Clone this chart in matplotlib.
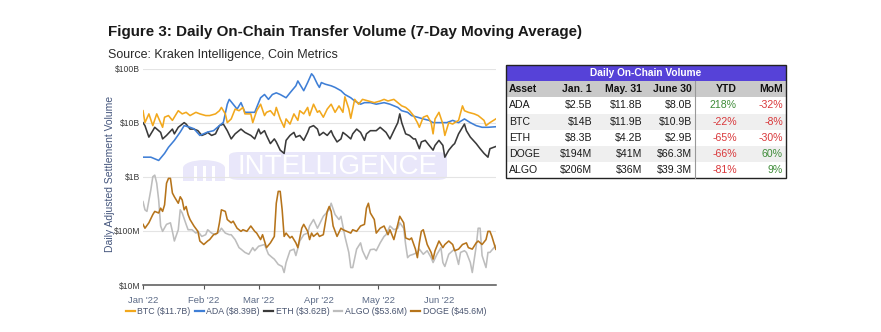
import numpy as np
import matplotlib.pyplot as plt
from matplotlib.patches import Rectangle, FancyBboxPatch, Wedge
from matplotlib.lines import Line2D

plt.rcParams['font.family'] = ['Liberation Sans', 'DejaVu Sans']

# day offsets from Jan 1 2022
btc_days = [0, 1, 3, 5, 7, 10, 11, 13, 15, 17, 18, 20, 22, 24, 27, 29, 32, 34, 37, 39,
            40, 42, 43, 45, 47, 49, 51, 52, 55, 56, 58, 60, 62, 63, 65, 67, 68, 70, 72, 73,
            75, 77, 79, 80, 82, 84, 85, 87, 89, 90, 92, 94, 96, 98, 100, 102, 103, 105, 106, 108,
            110, 112, 115, 118, 121, 123, 125, 128, 130, 132, 134, 136, 138, 140, 141, 143, 145, 147, 148, 149,
            151, 153, 154, 156, 158, 159, 161, 163, 164, 166, 169, 171, 174, 175, 177, 180]
btc_bn = [16.6, 10, 14.5, 8.8, 14.5, 8.2, 12.6, 13.5, 11, 14.5, 16.6, 14.5, 15.5, 13.5, 15.5, 14.5, 13.5, 13.5, 14.5, 16.6,
          19.1, 14.5, 10, 11.7, 17.8, 16.6, 19.1, 14.5, 14.5, 10, 16.6, 21.9, 13.5, 15.5, 16.6, 13.5, 19.1, 11.7, 8.2, 11.7,
          9.4, 14.5, 11, 16.6, 14.5, 19.1, 13.5, 21.9, 15.5, 16.6, 12.6, 17.8, 21.9, 15.5, 20.4, 15.5, 30, 18, 12, 26.9,
          21.9, 26.9, 25.1, 23.4, 25.1, 26.9, 25.1, 26.9, 23.4, 20.4, 19.1, 16.6, 13.5, 10, 8.2, 12.6, 13.5, 10, 6.2, 11.7,
          15.5, 9.4, 5.8, 10, 9.4, 10, 11, 20.4, 16.6, 15.5, 14.5, 13.5, 11, 8.8, 10, 11.7]

ada_days = [0, 4, 8, 11, 13, 16, 19, 21, 24, 26, 29, 33, 36, 39, 41, 43, 44, 46, 48, 50,
            52, 55, 57, 60, 62, 64, 66, 68, 70, 73, 75, 78, 79, 81, 82, 84, 86, 87, 89, 90,
            91, 93, 96, 98, 101, 103, 106, 108, 111, 113, 116, 119, 123, 126, 130, 132, 135, 137, 140, 143,
            146, 148, 152, 155, 158, 161, 164, 167, 170, 173, 176, 180]
ada_bn = [2.3, 2.3, 2.0, 2.7, 3.5, 4.7, 6.7, 8.8, 8.2, 7.7, 5.8, 6.7, 7.1, 8.8, 10.1, 21.9, 26.9, 21.9, 17.8, 23.4,
          15.5, 15.5, 15.5, 28.8, 33.1, 26.9, 33.1, 35.5, 33.1, 28.8, 35.5, 47.9, 58.9, 44.7, 38.9, 55, 80, 72.4, 51.3, 44.7,
          55, 51.3, 47.9, 44.7, 38.9, 33.1, 28.8, 25.1, 21.9, 23.4, 23.4, 21.9, 23.4, 21.9, 19.1, 16.6, 15.5, 13.5, 12.6, 11.7,
          11, 10, 10, 10, 11, 10, 11.7, 10, 8.8, 8.2, 8.2, 8.39]

eth_days = [0, 1, 3, 5, 6, 9, 10, 12, 15, 16, 18, 21, 22, 24, 26, 28, 30, 32, 33, 35,
            37, 39, 41, 43, 45, 47, 50, 52, 55, 57, 59, 60, 62, 63, 65, 67, 68, 70, 72, 73,
            75, 77, 78, 80, 82, 84, 85, 87, 89, 90, 92, 94, 96, 97, 99, 101, 102, 104, 106, 107,
            109, 111, 113, 114, 116, 119, 121, 124, 126, 128, 130, 131, 132, 134, 136, 138, 139, 141, 142, 144,
            146, 148, 149, 151, 153, 154, 156, 158, 159, 161, 163, 164, 165, 167, 170, 172, 174, 176, 177, 180]
eth_bn = [10, 8.8, 5.4, 7.1, 8.2, 6.6, 5.0, 5.8, 7.6, 6.2, 8.2, 10, 9.4, 7.6, 7.6, 7.1, 5.8, 6.2, 6.6, 5.8,
          6.2, 8.8, 9.4, 7.1, 5.0, 6.2, 7.6, 6.6, 5.8, 5.0, 7.6, 6.2, 7.1, 5.8, 4.1, 5.0, 4.4, 3.1, 2.7, 4.7,
          5.8, 6.6, 5.4, 5.8, 4.7, 6.6, 8.2, 8.8, 7.6, 5.8, 6.6, 5.8, 7.1, 5.8, 4.4, 5.0, 6.6, 5.8, 5.0, 6.2,
          7.6, 6.6, 4.7, 6.2, 7.1, 7.1, 8.2, 6.6, 5.0, 7.1, 10, 14.5, 10, 6.2, 5.8, 5.0, 5.0, 3.3, 4.4, 4.7,
          3.8, 3.1, 3.8, 4.7, 3.8, 2.3, 3.1, 3.8, 4.1, 6.2, 8.2, 9.4, 7.1, 5.4, 4.1, 3.3, 2.7, 2.3, 3.3, 3.62]

algo_days = [0, 1, 2, 4, 5, 6, 7, 8, 9, 10, 12, 14, 15, 16, 18, 19, 20, 22, 23, 25,
             27, 28, 30, 32, 33, 35, 37, 39, 40, 42, 44, 45, 47, 49, 50, 52, 54, 56, 57, 59,
             62, 64, 66, 67, 69, 71, 72, 73, 75, 77, 78, 80, 82, 84, 85, 87, 89, 90, 92, 95,
             96, 98, 100, 101, 103, 105, 106, 107, 109, 111, 112, 114, 116, 118, 119, 121, 123, 124, 126, 128,
             130, 131, 133, 134, 135, 136, 138, 140, 141, 143, 145, 147, 148, 150, 152, 153, 154, 156, 158, 159,
             161, 162, 164, 165, 167, 168, 170, 171, 172, 173, 175, 176, 177, 180]
algo_mn = [347, 245, 229, 575, 1000, 1072, 759, 372, 123, 98, 132, 141, 98, 65, 105, 245, 214, 132, 105, 105,
           91, 98, 79, 85, 105, 91, 85, 98, 112, 91, 85, 85, 69, 49, 46, 40, 37, 49, 43, 52,
           56, 37, 32, 30, 24, 22, 17, 26, 43, 46, 35, 65, 85, 91, 123, 162, 112, 132, 186, 245,
           324, 200, 162, 186, 79, 40, 21, 21, 46, 60, 43, 30, 45, 46, 43, 60, 79, 85, 123, 105,
           112, 141, 112, 56, 32, 35, 37, 40, 46, 37, 43, 32, 26, 37, 49, 26, 22, 37, 43, 46,
           24, 40, 43, 40, 26, 17, 52, 112, 112, 35, 21, 40, 40, 53.6]

doge_days = [0, 1, 3, 5, 6, 8, 9, 10, 11, 12, 13, 14, 15, 16, 18, 19, 20, 21, 22, 23,
             24, 26, 28, 29, 31, 33, 34, 36, 38, 39, 40, 42, 43, 45, 46, 48, 50, 51, 53, 55,
             57, 58, 60, 61, 63, 65, 67, 68, 69, 70, 71, 72, 73, 75, 76, 78, 79, 81, 82, 84,
             85, 86, 87, 89, 90, 92, 94, 95, 96, 97, 99, 101, 102, 104, 106, 107, 109, 111, 113, 114,
             115, 116, 118, 119, 121, 123, 125, 126, 128, 130, 131, 133, 134, 136, 137, 139, 140, 141, 142, 143,
             145, 147, 148, 149, 151, 153, 154, 156, 158, 159, 161, 163, 165, 166, 168, 170, 171, 173, 175, 176,
             177, 178, 180]
doge_mn = [132, 112, 141, 200, 229, 214, 263, 229, 302, 759, 933, 933, 501, 427, 324, 427, 372, 245, 282, 200,
           162, 123, 98, 65, 56, 65, 69, 85, 91, 141, 245, 229, 162, 141, 151, 112, 98, 105, 98, 123,
           98, 91, 69, 85, 49, 60, 79, 324, 537, 537, 245, 79, 91, 74, 79, 60, 49, 112, 132, 98,
           69, 91, 79, 91, 79, 85, 229, 282, 229, 123, 79, 112, 105, 98, 91, 105, 98, 123, 132, 263,
           324, 214, 162, 91, 112, 123, 85, 105, 69, 132, 186, 141, 74, 69, 74, 46, 32, 60, 98, 105,
           56, 40, 30, 43, 65, 49, 56, 65, 56, 43, 46, 56, 60, 49, 46, 60, 65, 56, 69, 98,
           98, 79, 45.6]

month_labels = ["Jan '22", "Feb '22", "Mar '22", "Apr '22", "May '22", "Jun '22"]
month_starts = ['2022-01-01', '2022-02-01', '2022-03-01', '2022-04-01', '2022-05-01', '2022-06-01']
y_ticks = [1e7, 1e8, 1e9, 1e10, 1e11]
y_tick_labels = ['$10M', '$100M', '$1B', '$10B', '$100B']

legend_labels = ['BTC ($11.7B)', 'ADA ($8.39B)', 'ETH ($3.62B)', 'ALGO ($53.6M)', 'DOGE ($45.6M)']

table_cols = ['Asset', 'Jan. 1', 'May. 31', 'June 30', 'YTD', 'MoM']
table_rows = [
    ['ADA', '$2.5B', '$11.8B', '$8.0B', '218%', '-32%'],
    ['BTC', '$14B', '$11.9B', '$10.9B', '-22%', '-8%'],
    ['ETH', '$8.3B', '$4.2B', '$2.9B', '-65%', '-30%'],
    ['DOGE', '$194M', '$41M', '$66.3M', '-66%', '60%'],
    ['ALGO', '$206M', '$36M', '$39.3M', '-81%', '9%'],
]

colors = {'BTC': '#f2a81d', 'ADA': '#3f7fd6', 'ETH': '#3a3a3a', 'ALGO': '#bdbdbd', 'DOGE': '#b6741b'}

W, H = 881, 332


def fx(x):
    return x / W


def fy(y):
    return 1 - y / H


fig = plt.figure(figsize=(W / 100, H / 100), dpi=100)

# titles
fig.text(fx(108), fy(32), 'Figure 3: Daily On-Chain Transfer Volume (7-Day Moving Average)',
         fontsize=10.9, fontweight='bold', color='#1a1a1a', va='center', ha='left')
fig.text(fx(108), fy(55), 'Source: Kraken Intelligence, Coin Metrics',
         fontsize=9, color='#2a2a2a', va='center', ha='left')

# watermark (behind the chart)
wm = '#e9e7fa'
fig.add_artist(FancyBboxPatch((fx(229), fy(180)), fx(447) - fx(229), fy(152) - fy(180),
                              boxstyle='round,pad=0,rounding_size=0.012', transform=fig.transFigure,
                              facecolor=wm, edgecolor='none', zorder=-2))
fig.add_artist(Wedge((fx(204), fy(168)), fx(21), 0, 180, transform=fig.transFigure,
                     facecolor=wm, edgecolor='none', zorder=-2))
fig.add_artist(Rectangle((fx(183), fy(181)), fx(42), fy(168) - fy(181), transform=fig.transFigure,
                         facecolor=wm, edgecolor='none', zorder=-2))
for lx in [195, 204, 213]:
    fig.add_artist(Rectangle((fx(lx - 1.5), fy(182)), fx(3), fy(166) - fy(182), transform=fig.transFigure,
                             facecolor='white', edgecolor='none', zorder=-2))
fig.text(fx(338), fy(166.5), 'INTELLIGENCE', fontsize=20, color='white', ha='center', va='center',
         zorder=-1)

ax = fig.add_axes([fx(143), fy(285), fx(495.8) - fx(143), fy(68.5) - fy(285)])
ax.patch.set_alpha(0)

start = np.datetime64('2022-01-01')
series = [
    ('ALGO', algo_days, np.array(algo_mn) * 1e6),
    ('DOGE', doge_days, np.array(doge_mn) * 1e6),
    ('ETH', eth_days, np.array(eth_bn) * 1e9),
    ('ADA', ada_days, np.array(ada_bn) * 1e9),
    ('BTC', btc_days, np.array(btc_bn) * 1e9),
]
for name, days, vals in series:
    ax.plot(start + np.array(days), vals, color=colors[name], lw=1.15, solid_joinstyle='round')

ax.set_yscale('log')
ax.set_ylim(1e7, 1e11)
ax.set_xlim(start, start + 180)
ax.set_yticks(y_ticks)
ax.set_yticklabels(y_tick_labels)
ax.minorticks_off()
ax.set_xticks([np.datetime64(m) for m in month_starts])
ax.set_xticklabels(month_labels)
ax.grid(axis='y', color='#e4e4e4', lw=0.8)
ax.set_axisbelow(True)
for s in ['top', 'right', 'left']:
    ax.spines[s].set_visible(False)
ax.spines['bottom'].set_color('#555555')
ax.spines['bottom'].set_linewidth(1.1)
ax.tick_params(axis='y', length=0, pad=2, labelsize=6.2, labelcolor='#3a3a3a')
ax.tick_params(axis='x', length=3, width=0.8, color='#555555', pad=5, labelsize=6.8, labelcolor='#5b6a86')

fig.text(fx(110), fy(174), 'Daily Adjusted Settlement Volume', rotation=90, fontsize=7.5,
         color='#45567d', ha='center', va='center')

# legend
order = ['BTC', 'ADA', 'ETH', 'ALGO', 'DOGE']
handles = [Line2D([], [], color=colors[n], lw=1.6) for n in order]
leg = fig.legend(handles, legend_labels, loc='center', bbox_to_anchor=(fx(306), fy(312)), ncol=5,
                 frameon=False, fontsize=6.3, handlelength=1.0, handletextpad=0.3, columnspacing=0.5)
for t in leg.get_texts():
    t.set_color('#4a5570')

# table
tx0, tx1 = 506, 786
ty_top, ty_head, ty_cols = 65, 81, 97.3
row_h = 16.2
fig.add_artist(Rectangle((fx(tx0), fy(ty_head)), fx(tx1 - tx0), fy(ty_top) - fy(ty_head),
                         transform=fig.transFigure, facecolor='#5642d8', edgecolor='none'))
fig.add_artist(Rectangle((fx(tx0), fy(ty_cols)), fx(tx1 - tx0), fy(ty_head) - fy(ty_cols),
                         transform=fig.transFigure, facecolor='#c9c9c9', edgecolor='none'))
for i in range(len(table_rows)):
    top = ty_cols + i * row_h
    fc = '#efefef' if i % 2 == 1 else 'white'
    fig.add_artist(Rectangle((fx(tx0), fy(top + row_h)), fx(tx1 - tx0), fy(top) - fy(top + row_h),
                             transform=fig.transFigure, facecolor=fc, edgecolor='none'))
ty_bot = ty_cols + len(table_rows) * row_h
fig.add_artist(Rectangle((fx(tx0), fy(ty_bot)), fx(tx1 - tx0), fy(ty_top) - fy(ty_bot),
                         transform=fig.transFigure, facecolor='none', edgecolor='#222222', lw=1.0))
fig.add_artist(Line2D([fx(695), fx(695)], [fy(ty_head), fy(ty_bot)], transform=fig.transFigure,
                      color='#999999', lw=0.8))

fig.text(fx((tx0 + tx1) / 2), fy((ty_top + ty_head) / 2), 'Daily On-Chain Volume', color='white',
         fontsize=7.3, fontweight='bold', ha='center', va='center')

col_x = [509, 592, 642, 692, 737, 783]
col_ha = ['left', 'right', 'right', 'right', 'right', 'right']
for j, c in enumerate(table_cols):
    fig.text(fx(col_x[j]), fy((ty_head + ty_cols) / 2), c, fontsize=7.5, fontweight='bold',
             ha=col_ha[j], va='center', color='#111111')
for i, row in enumerate(table_rows):
    yc = ty_cols + (i + 0.5) * row_h
    for j, v in enumerate(row):
        col = '#1a1a1a'
        if j >= 4:
            col = '#d9373a' if v.startswith('-') else '#3d8b37'
        fig.text(fx(col_x[j]), fy(yc), v, fontsize=7.6, ha=col_ha[j], va='center', color=col)

fig.savefig('out.png', dpi=100)
